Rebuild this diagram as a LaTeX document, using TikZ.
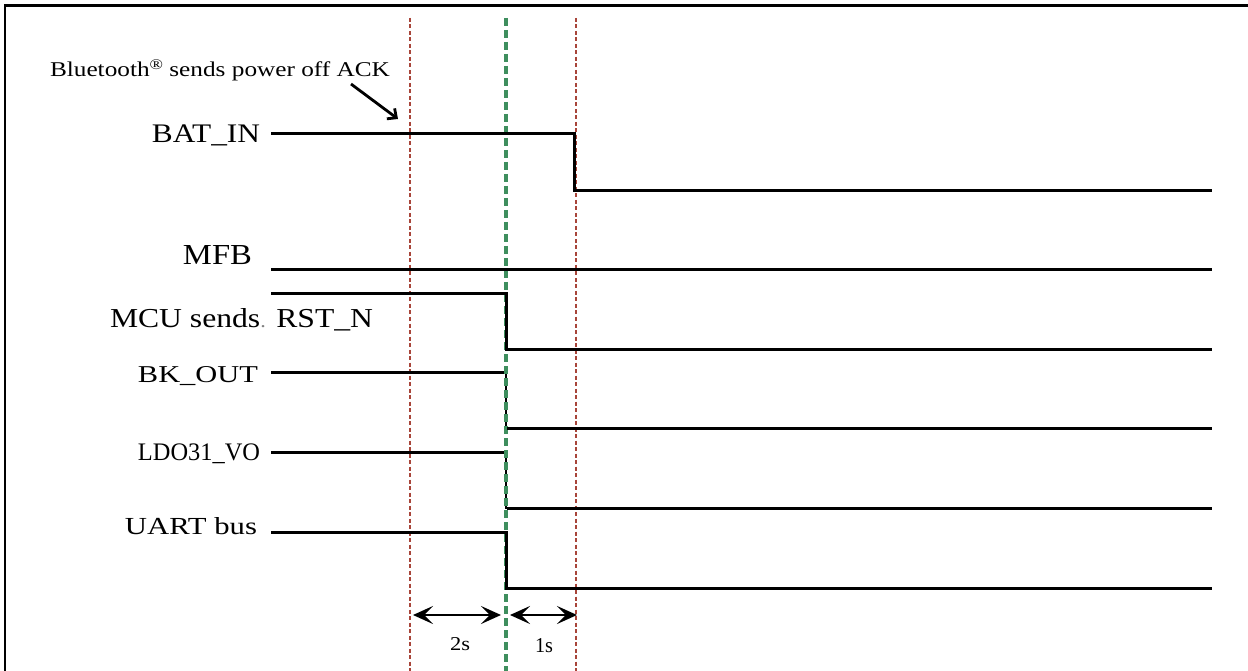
\documentclass[tikz,border=0pt]{standalone}
\usepackage{fontspec}
\setmainfont{Liberation Serif}
\usetikzlibrary{arrows.meta}
\newcommand\fitlab[3]{\resizebox{#1pt}{#2pt}{#3}}
\definecolor{markred}{HTML}{A8453A}
\definecolor{markgreen}{HTML}{3E8E5E}
\begin{document}
\begin{tikzpicture}[x=1pt,y=-1pt,
  lbl/.style={inner sep=0pt,outer sep=0pt,text=black},
  sig/.style={line width=3pt,black,line join=miter},
  redmark/.style={markred,line width=1.7pt,dash pattern=on 4pt off 2.5pt},
  greenmark/.style={markgreen,line width=3.4pt,dash pattern=on 8pt off 4pt},
  timearrow/.style={line width=2.8pt,{Stealth[length=20pt,width=18pt,inset=9pt]}-{Stealth[length=20pt,width=18pt,inset=9pt]}},
  ackarrow/.style={line width=2.8pt,-{Straight Barb[length=7pt,width=13pt,line width=2.8pt]}}]
\useasboundingbox (0,0) rectangle (1248,671);
\fill[white] (0,0) rectangle (1248,671);
% frame
\draw[line width=2.6pt] (5,671) -- (5,5.3) -- (1248,5.3);

% vertical time markers
\coordinate (r1t) at (410,18); \coordinate (r1b) at (410,671);
\coordinate (gt) at (506,18);  \coordinate (gb) at (506,671);
\coordinate (r2t) at (576,18); \coordinate (r2b) at (576,671);
\draw[redmark] (r1t) -- (r1b);
\draw[redmark] (r2t) -- (r2b);

% thin black edges under the green marker
\coordinate (bk1) at (505.5,372); \coordinate (bk2) at (505.5,428);
\coordinate (ld1) at (505.5,452); \coordinate (ld2) at (505.5,509);
\draw[black,line width=2pt] (bk1) -- (bk2);
\draw[black,line width=2pt] (ld1) -- (ld2);
\draw[greenmark] (gt) -- (gb);

% labels
\node[lbl,anchor=base west] (ack) at (50,76.7) {\fitlab{340}{14.8}{Bluetooth\raisebox{0.33em}[0pt][0pt]{\scriptsize ®} sends power off ACK}};
\node[lbl,anchor=base east] (batl) at (260,143) {\fitlab{108}{17.7}{BAT\_IN}};
\node[lbl,anchor=base east] (mfbl) at (252,265) {\fitlab{69}{19}{MFB}};
\node[lbl,anchor=base west] (rstl) at (110,327) {\fitlab{263}{19}{MCU sends{\color{gray}\scriptsize .} RST\_N}};
\node[lbl,anchor=base east] (bkl) at (258,382.5) {\fitlab{120}{16}{BK\_OUT}};
\node[lbl,anchor=base east] (ldl) at (260,460) {\fitlab{122}{16.7}{LDO31\_VO}};
\node[lbl,anchor=base east] (uartl) at (257,534) {\fitlab{132}{17}{UART bus}};
\node[lbl,anchor=base west] (t2) at (450,650) {\fitlab{20}{13}{2s}};
\node[lbl,anchor=base west] (t1) at (535,652) {\fitlab{18}{14}{1s}};

% ack arrow
\coordinate (acka) at (351,84); \coordinate (ackb) at (398,119);
\draw[ackarrow] (acka) -- (ackb);

% BAT_IN
\coordinate (b0) at (271,134); \coordinate (b1) at (574,134);
\coordinate (b2) at (574,191); \coordinate (b3) at (1212,191);
\draw[sig] (b0) -- (b1) -- (b2) -- (b3);
% MFB
\coordinate (m0) at (271,270); \coordinate (m1) at (1212,270);
\draw[sig] (m0) -- (m1);
% RST_N
\coordinate (s0) at (271,293); \coordinate (s1) at (506,293);
\coordinate (s2) at (506,349.5); \coordinate (s3) at (1212,349.5);
\draw[sig] (s0) -- (s1) -- (s2) -- (s3);
% BK_OUT
\coordinate (k0) at (271,372); \coordinate (k1) at (504,372);
\coordinate (k2) at (507,428); \coordinate (k3) at (1212,428);
\draw[sig] (k0) -- (k1);
\draw[sig] (k2) -- (k3);
% LDO31_VO
\coordinate (l0) at (271,452); \coordinate (l1) at (504,452);
\coordinate (l2) at (507,508.5); \coordinate (l3) at (1212,508.5);
\draw[sig] (l0) -- (l1);
\draw[sig] (l2) -- (l3);
% UART bus
\coordinate (u0) at (271,532); \coordinate (u1) at (506,532);
\coordinate (u2) at (506,588.5); \coordinate (u3) at (1212,588.5);
\draw[sig] (u0) -- (u1) -- (u2) -- (u3);

% timing arrows
\coordinate (a0) at (413,615); \coordinate (a1) at (501,615);
\coordinate (a2) at (510,615); \coordinate (a3) at (577,615);
\draw[timearrow] (a0) -- (a1);
\draw[timearrow] (a2) -- (a3);
\end{tikzpicture}
\end{document}
